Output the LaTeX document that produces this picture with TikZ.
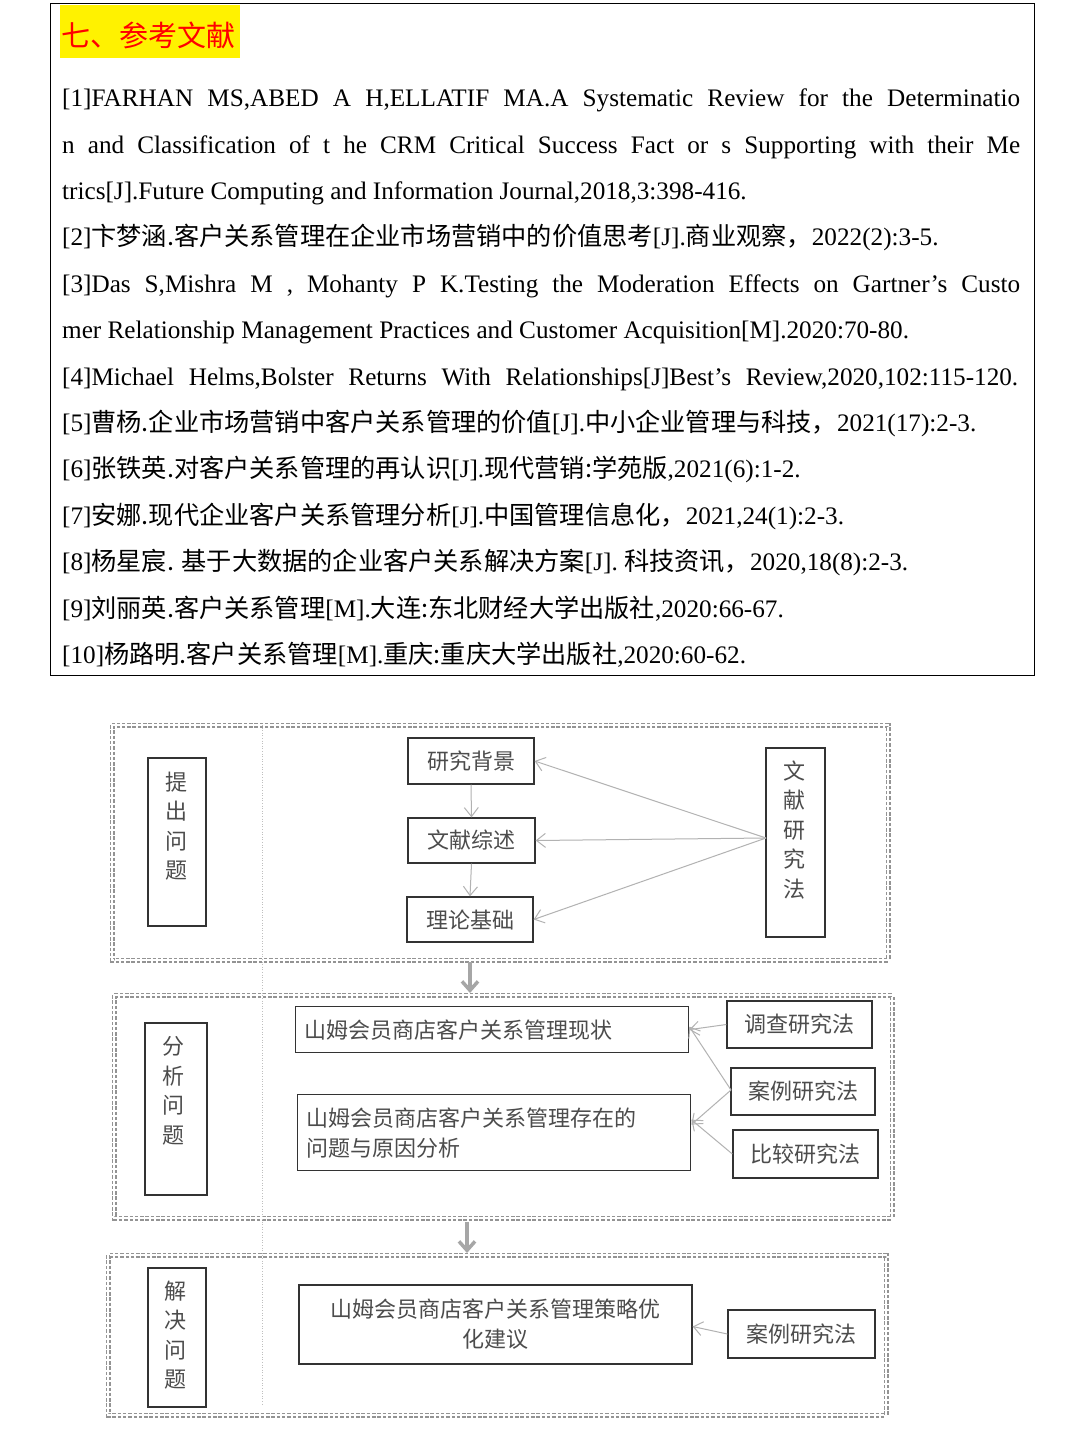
\documentclass[tikz,border=0pt]{standalone}
\usepackage{fontspec}
\setmainfont{Liberation Serif}
\newfontfamily\cjk{Noto Sans CJK SC}
\newcommand{\zh}[1]{{\cjk #1}}
\usetikzlibrary{arrows.meta}
\tikzset{
 refl/.style={anchor=base west,inner sep=0pt,font=\fontsize{25.2}{26}\selectfont},
 grp/.style={draw=gray!85,line width=1.8pt,double=white,double distance=1.4pt,dash pattern=on 3.5pt off 1.8pt},
 bx/.style={draw=black!80,line width=1.3pt,text=black!70,font=\cjk\fontsize{22}{26}\selectfont,inner sep=0pt},
 vtx/.style={text=black!70,align=center,font=\cjk\fontsize{22}{29.5}\selectfont,inner sep=0pt},
 ar/.style={draw=gray!60,line width=1pt,-{Straight Barb[length=9pt,width=14pt]}},
 big/.style={draw=gray!70,line width=3.5pt,-{Straight Barb[length=9pt,width=16pt,line width=3.5pt]}},
}
\newcommand{\jl}[1]{\makebox[958pt][s]{#1}}
\begin{document}
\begin{tikzpicture}[x=1pt,y=-1pt]
\useasboundingbox (0,0) rectangle (1080,1440);
\fill[white] (0,0) rectangle (1080,1440);
% references
\draw[line width=1pt] (50,3) rectangle (1034,675);
\fill[yellow] (60,5) rectangle (240,58);
\node[anchor=base west,inner sep=0pt,text=red,font=\cjk\fontsize{29}{29}\selectfont] (title) at (61,46) {七、参考文献};
\node[refl] (r1) at (62,106) {\jl{[1]FARHAN MS,ABED A H,ELLATIF MA.A Systematic Review for the Determinatio}};
\node[refl] (r1b) at (62,153) {\jl{n and Classification of t he CRM Critical Success Fact or s Supporting with their Me}};
\node[refl] (r1c) at (62,199) {trics[J].Future Computing and Information Journal,2018,3:398-416.};
\node[refl] (r2) at (62,245) {[2]\zh{卞梦涵.客户关系管理在企业市场营销中的价值思考}[J].\zh{商业观察，}2022(2):3-5.};
\node[refl] (r3) at (62,292) {\jl{[3]Das S,Mishra M , Mohanty P K.Testing the Moderation Effects on Gartner's Custo}};
\node[refl] (r3b) at (62,338) {mer Relationship Management Practices and Customer Acquisition[M].2020:70-80.};
\node[refl] (r4) at (62,385) {\makebox[956pt][s]{[4]Michael Helms,Bolster Returns With Relationships[J]Best's Review,2020,102:115-120.}};
\node[refl] (r5) at (62,431) {[5]\zh{曹杨.企业市场营销中客户关系管理的价值}[J].\zh{中小企业管理与科技，}2021(17):2-3.};
\node[refl] (r6) at (62,477) {[6]\zh{张铁英.对客户关系管理的再认识}[J].\zh{现代营销:学苑版},2021(6):1-2.};
\node[refl] (r7) at (62,524) {[7]\zh{安娜.现代企业客户关系管理分析}[J].\zh{中国管理信息化，}2021,24(1):2-3.};
\node[refl] (r8) at (62,570) {[8]\zh{杨星宸. 基于大数据的企业客户关系解决方案}[J]. \zh{科技资讯，}2020,18(8):2-3.};
\node[refl] (r9) at (62,617) {[9]\zh{刘丽英.客户关系管理}[M].\zh{大连:东北财经大学出版社},2020:66-67.};
\node[refl] (r10) at (62,663) {[10]\zh{杨路明.客户关系管理}[M].\zh{重庆:重庆大学出版社},2020:60-62.};
% diagram groups
\draw[grp] (112,725) rectangle (888,960);
\draw[grp] (114,995) rectangle (892,1218);
\draw[grp] (108,1255) rectangle (886,1415);
\draw[gray!50,line width=0.6pt,dotted] (262,725) -- (262,1405);
% group 1
\node[bx,minimum width=58pt,minimum height=168pt] (p1) at (177,842) {};
\node[vtx] (p1t) at (176,826) {提\\出\\问\\题};
\node[bx,minimum width=126pt,minimum height=46pt] (a1) at (471,761) {研究背景};
\node[bx,minimum width=127pt,minimum height=45pt] (a2) at (471.5,840.5) {文献综述};
\node[bx,minimum width=126pt,minimum height=45pt] (a3) at (470,919.5) {理论基础};
\node[bx,minimum width=59pt,minimum height=189pt] (m1) at (795.5,842.5) {};
\node[vtx] (m1t) at (794,830) {文\\献\\研\\究\\法};
\coordinate (m1c) at (766,838);
\draw[ar] (a1.south) -- (a2.north);
\draw[ar] (a2.south) -- (a3.north);
\draw[ar] (m1c) -- (a1.east);
\draw[ar] (m1c) -- (a2.east);
\draw[ar] (m1c) -- (a3.east);
\coordinate (g1b) at (470,962);
\coordinate (g2t) at (470,993);
\draw[big] (g1b) -- (g2t);
% group 2
\node[bx,minimum width=62pt,minimum height=172pt] (p2) at (176,1109) {};
\node[vtx] (p2t) at (173,1091) {分\\析\\问\\题};
\node[bx,minimum width=393pt,minimum height=46pt,anchor=north west,align=left,text width=375pt] (b1) at (295,1006) {山姆会员商店客户关系管理现状};
\node[bx,minimum width=393pt,minimum height=76pt,anchor=north west,align=left,text width=375pt,font=\cjk\fontsize{22}{30}\selectfont] (b2) at (297,1094) {山姆会员商店客户关系管理存在的\\问题与原因分析};
\node[bx,minimum width=145pt,minimum height=47pt] (c1) at (799.5,1024.5) {调查研究法};
\node[bx,minimum width=144pt,minimum height=47pt] (c2) at (803,1091.5) {案例研究法};
\node[bx,minimum width=145pt,minimum height=48pt] (c3) at (805.5,1154) {比较研究法};
\coordinate (c2l) at (731,1090);
\draw[ar] (c1.west) -- (b1.east);
\draw[ar] (c2l) -- ([yshift=3pt]b1.east);
\draw[ar] (c2l) -- ([yshift=8pt]b2.east);
\draw[ar] (c3.west) -- ([yshift=13pt]b2.east);
\coordinate (g2b) at (467,1222);
\coordinate (g3t) at (467,1253);
\draw[big] (g2b) -- (g3t);
% group 3
\node[bx,minimum width=58pt,minimum height=139pt] (p3) at (177,1337.5) {};
\node[vtx] (p3t) at (175,1335) {解\\决\\问\\题};
\node[bx,minimum width=393pt,minimum height=79pt,align=center,font=\cjk\fontsize{22}{30}\selectfont] (d1) at (495.5,1324.5) {山姆会员商店客户关系管理策略优\\化建议};
\node[bx,minimum width=147pt,minimum height=48pt] (e1) at (801.5,1334) {案例研究法};
\draw[ar] (e1.west) -- ([yshift=-2pt]d1.east);
\end{tikzpicture}
\end{document}
